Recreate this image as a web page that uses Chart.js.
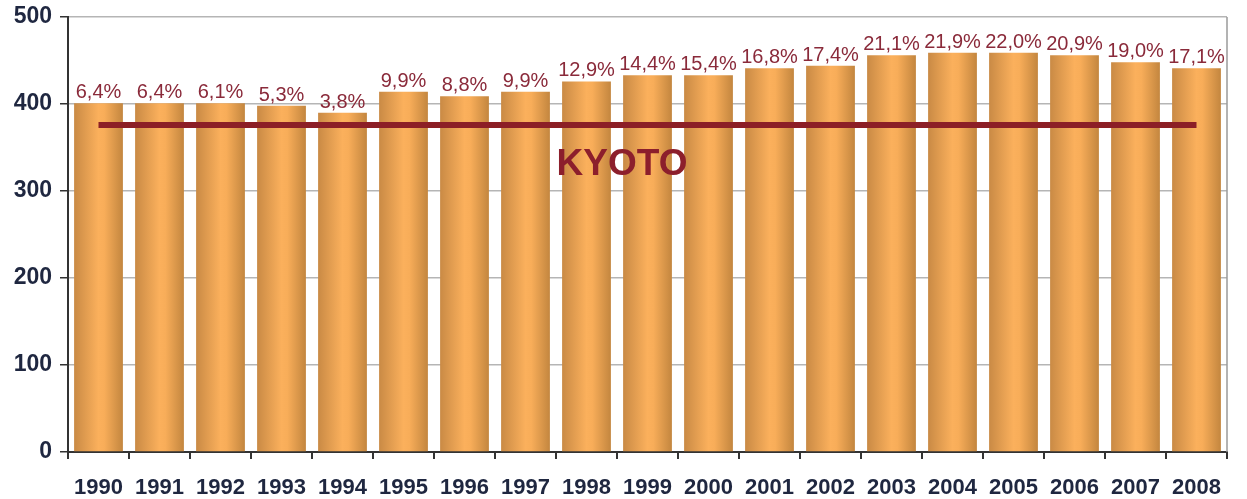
<!DOCTYPE html>
<html>
<head>
<meta charset="utf-8">
<script src="https://cdn.jsdelivr.net/npm/chart.js@4/dist/chart.umd.min.js"></script>
<style>
  html, body { margin: 0; padding: 0; background: #fff; }
  #wrap { width: 1247px; height: 499px; }
</style>
</head>
<body>
<div id="wrap"><canvas id="myChart" width="1247" height="499"></canvas></div>
<script>
// years on the x axis
const years = ['1990','1991','1992','1993','1994','1995','1996','1997','1998','1999',
               '2000','2001','2002','2003','2004','2005','2006','2007','2008'];
// emissions (bar heights)
const emissions = [401, 401, 401, 398, 390, 414, 409, 414, 426, 433,
                   433, 441, 444, 456, 459, 459, 456, 448, 441];
// labels above the bars
const pctLabels = ['6,4%','6,4%','6,1%','5,3%','3,8%','9,9%','8,8%','9,9%','12,9%','14,4%',
                   '15,4%','16,8%','17,4%','21,1%','21,9%','22,0%','20,9%','19,0%','17,1%'];
// kyoto target
const kyotoValue = 376;
const kyotoLine = years.map(() => kyotoValue);
const kyotoText = 'KYOTO';

const txtDark = '#1f2740';
const redText = '#8a2a3a';

function barGradient(c) {
    const chart = c.chart;
    const area = chart.chartArea;
    const xs = chart.scales.x;
    if (!area || !xs) return '#f0a552';
    const ctx = chart.ctx;
    const g = ctx.createLinearGradient(area.left, 0, area.right, 0);
    const w = area.right - area.left;
    const cat = w / years.length;
    const bw = cat * 0.8;
    for (let i = 0; i < years.length; i++) {
        const cx = xs.getPixelForValue(i);
        const l = (cx - bw / 2 - area.left) / w;
        const r = (cx + bw / 2 - area.left) / w;
        g.addColorStop(Math.max(0, l), '#c98a45');
        g.addColorStop(l + (r - l) * 0.5, '#fbb05c');
        g.addColorStop(l + (r - l) * 0.62, '#f8ad59');
        g.addColorStop(Math.min(1, r), '#c3863f');
    }
    return g;
}

const extras = {
    id: 'extras',
    afterDatasetsDraw(chart) {
        const ctx = chart.ctx;
        const area = chart.chartArea;
        const meta = chart.getDatasetMeta(0);
        ctx.save();
        // right border of plot
        ctx.strokeStyle = '#9a9a9a';
        ctx.lineWidth = 1.5;
        ctx.beginPath();
        ctx.moveTo(area.right, area.top);
        ctx.lineTo(area.right, area.bottom);
        ctx.stroke();
        // percent labels
        ctx.fillStyle = redText;
        ctx.font = '20px "Liberation Sans", Arial, sans-serif';
        ctx.textAlign = 'center';
        ctx.textBaseline = 'alphabetic';
        meta.data.forEach((bar, i) => {
            ctx.fillText(pctLabels[i], bar.x, bar.y - 5);
        });
        // KYOTO label
        const xs = chart.scales.x, ys = chart.scales.y;
        ctx.fillStyle = '#8c1f2c';
        ctx.font = 'bold 37px "Liberation Sans", Arial, sans-serif';
        ctx.textBaseline = 'middle';
        const kx = (xs.getPixelForValue(8) + xs.getPixelForValue(9)) / 2 + 5;
        ctx.fillText(kyotoText, kx, ys.getPixelForValue(330));
        ctx.restore();
    }
};

const ctx = document.getElementById('myChart').getContext('2d');
new Chart(ctx, {
    data: {
        labels: years,
        datasets: [{
            type: 'bar',
            data: emissions,
            backgroundColor: barGradient,
            borderWidth: 0,
            categoryPercentage: 1,
            barPercentage: 0.8,
            order: 2
        }, {
            type: 'line',
            data: kyotoLine,
            borderColor: '#8c1f26',
            borderWidth: 6,
            pointRadius: 0,
            fill: false,
            order: 1
        }]
    },
    options: {
        responsive: false,
        animation: false,
        devicePixelRatio: 1,
        layout: { padding: { top: 17, right: 20, left: 0, bottom: 0 } },
        plugins: { legend: { display: false }, tooltip: { enabled: false } },
        scales: {
            x: {
                grid: { display: true, drawOnChartArea: false, offset: true, tickLength: 7, color: '#333', lineWidth: 2 },
                border: { display: true, color: '#333', width: 2 },
                ticks: { color: txtDark, font: { family: '"Liberation Sans", Arial', size: 22, weight: 'bold' }, padding: 16, maxRotation: 0, autoSkip: false },
                afterFit(s) { s.height = 47; s.paddingLeft = 0; s.paddingRight = 0; }
            },
            y: {
                min: 0, max: 500,
                ticks: { stepSize: 100, color: txtDark, font: { family: '"Liberation Sans", Arial', size: 23, weight: 'bold' }, padding: 8 },
                grid: { color: '#b5b5b5', lineWidth: 1.5, tickLength: 8, tickColor: '#333' },
                border: { display: true, color: '#333', width: 2 },
                afterFit(s) { s.width = 68; s.paddingTop = 0; s.paddingBottom = 0; }
            }
        }
    },
    plugins: [extras]
});
</script>
</body>
</html>
